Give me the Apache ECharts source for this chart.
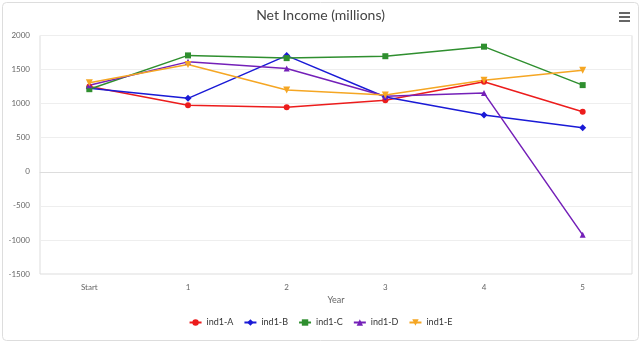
<!DOCTYPE html>
<html><head><meta charset="utf-8">
<script src="https://cdn.jsdelivr.net/npm/echarts@6/dist/echarts.min.js"></script>
<style>html,body{margin:0;padding:0;background:#fff}#c{width:641px;height:344px}</style>
</head><body><div id="c"></div>
<script>
const categories = ['Start', '1', '2', '3', '4', '5'];
const seriesNames = ['ind1-A', 'ind1-B', 'ind1-C', 'ind1-D', 'ind1-E'];
const indA = [1250, 975, 946, 1050, 1320, 880];
const indB = [1225, 1078, 1705, 1098, 834, 645];
const indC = [1212, 1708, 1668, 1696, 1836, 1272];
const indD = [1270, 1613, 1515, 1108, 1155, -925];
const indE = [1305, 1574, 1200, 1127, 1343, 1490];
const yTicks = { min: -1500, max: 2000, interval: 500 };

const colors = ['#ec1c1c', '#1a1ad6', '#2f8f2f', '#7420b8', '#f5a623'];
const symbols = ['circle', 'diamond', 'rect', 'triangle', 'path://M0,0 L10,0 L5,9 Z'];
const values = [indA, indB, indC, indD, indE];

const chart = echarts.init(document.getElementById('c'));
const font = 'Lato, "Noto Sans", sans-serif';
chart.setOption({
  animation: false,
  textStyle: { fontFamily: font },
  title: {
    text: 'Net Income (millions)', left: 'center', top: 3,
    textStyle: { fontSize: 14, fontWeight: 'normal', color: '#444', fontFamily: font }
  },
  graphic: [
    { type: 'rect', shape: { x: 2.5, y: 2.5, width: 636, height: 338, r: 4 },
      style: { fill: 'none', stroke: '#ddd', lineWidth: 1 }, silent: true, z: -1 },
    { type: 'rect', shape: { x: 619, y: 12, width: 11, height: 2 }, style: { fill: '#666' } },
    { type: 'rect', shape: { x: 619, y: 16, width: 11, height: 2 }, style: { fill: '#666' } },
    { type: 'rect', shape: { x: 619, y: 20, width: 11, height: 2 }, style: { fill: '#666' } }
  ],
  grid: { left: 40, right: 9, top: 35.5, bottom: 70, show: true, borderColor: '#ddd', borderWidth: 1 },
  legend: {
    bottom: 12, left: 'center', itemWidth: 12, itemHeight: 8, itemGap: 10,
    textStyle: { fontSize: 9, color: '#333', fontFamily: font },
    data: seriesNames
  },
  xAxis: {
    type: 'category', data: categories, boundaryGap: true,
    name: 'Year', nameLocation: 'middle', nameGap: 22,
    nameTextStyle: { fontSize: 9, color: '#666' },
    axisLine: { lineStyle: { color: '#ddd' } },
    axisTick: { show: false },
    axisLabel: { fontSize: 8, color: '#666', margin: 9 }
  },
  yAxis: {
    type: 'value', min: yTicks.min, max: yTicks.max, interval: yTicks.interval,
    axisLine: { show: false }, axisTick: { show: false },
    axisLabel: { fontSize: 8, color: '#666', margin: 10, formatter: v => String(v) },
    splitLine: { lineStyle: { color: '#eeeeee' } }
  },
  series: seriesNames.map((n, i) => ({
    name: n, type: 'line', data: values[i],
    symbol: symbols[i], symbolSize: i === 4 ? 7 : (i === 1 ? 7 : 6),
    showAllSymbol: true,
    lineStyle: { color: colors[i], width: 1.5 },
    itemStyle: { color: colors[i] }
  }))
});
</script></body></html>
